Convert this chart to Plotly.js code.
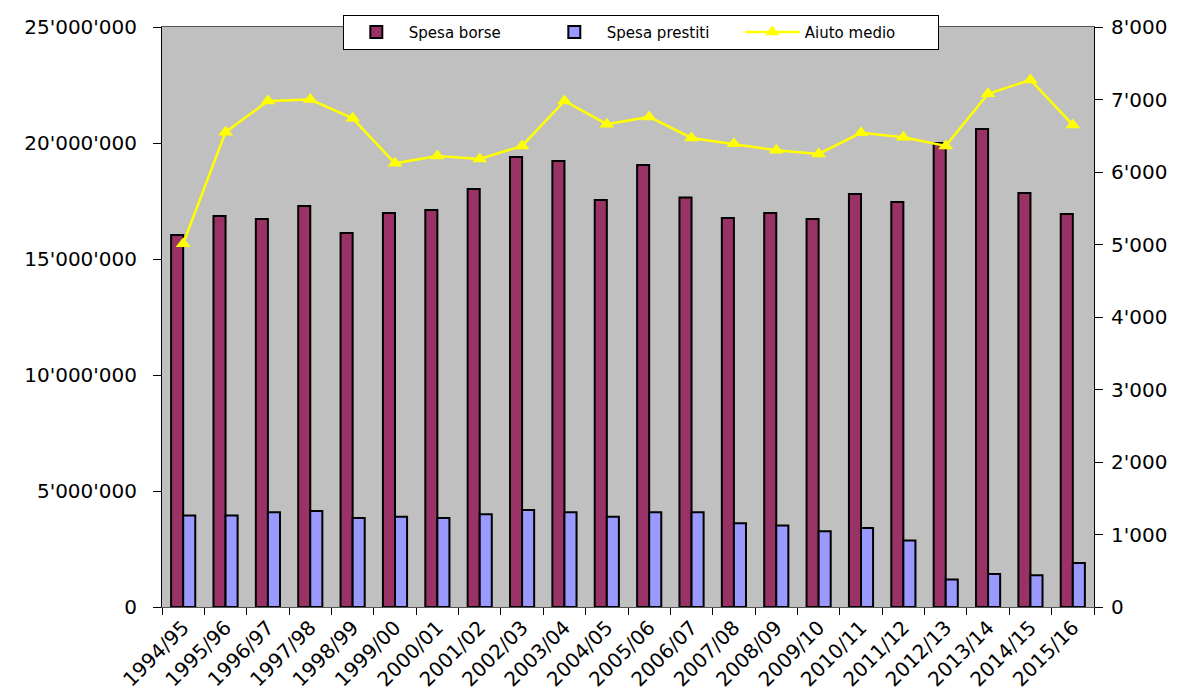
<!DOCTYPE html>
<html>
<head>
<meta charset="utf-8">
<script src="https://cdn.plot.ly/plotly-3.0.1.min.js"></script>
<style>
html,body{margin:0;padding:0;background:#fff;}
#chart{width:1184px;height:696px;}
</style>
</head>
<body>
<div id="chart"></div>
<script>
var categories = ["1994/95","1995/96","1996/97","1997/98","1998/99","1999/00","2000/01","2001/02","2002/03","2003/04","2004/05","2005/06","2006/07","2007/08","2008/09","2009/10","2010/11","2011/12","2012/13","2013/14","2014/15","2015/16"];
var spesaBorse = [16030000,16850000,16720000,17280000,16120000,16980000,17110000,18020000,19400000,19220000,17540000,19050000,17650000,16770000,16980000,16720000,17800000,17460000,20000000,20600000,17840000,16940000];
var spesaPrestiti = [3940000,3940000,4080000,4140000,3840000,3890000,3840000,4000000,4180000,4080000,3890000,4080000,4080000,3610000,3510000,3260000,3410000,2870000,1190000,1420000,1370000,1900000];
var aiutoMedio = [5010,6550,6980,7000,6740,6120,6220,6180,6360,6980,6660,6760,6470,6390,6300,6250,6540,6480,6360,7080,7270,6650];

var fontFam = "DejaVu Sans, Liberation Sans, Arial, sans-serif";

var traces = [
  {type:"bar", name:"Spesa borse", x:categories, y:spesaBorse,
   marker:{color:"#993366", line:{color:"#000000", width:2}}},
  {type:"bar", name:"Spesa prestiti", x:categories, y:spesaPrestiti,
   marker:{color:"#9999FF", line:{color:"#000000", width:2}}},
  {type:"scatter", mode:"lines+markers", name:"Aiuto medio", x:categories, y:aiutoMedio, yaxis:"y2",
   line:{color:"#FFFF00", width:2.5},
   marker:{symbol:"triangle-up", size:13, color:"#FFFF00"}}
];

var layout = {
  width:1184, height:696,
  margin:{l:162, r:90, t:27, b:89, pad:0},
  paper_bgcolor:"#FFFFFF",
  plot_bgcolor:"#C0C0C0",
  separators:".'",
  font:{family:fontFam, color:"#000000", size:18},
  barmode:"group",
  bargap:0.43,
  bargroupgap:0,
  showlegend:true,
  legend:{orientation:"h", x:0.194, xanchor:"left", y:1.021, yanchor:"top",
    bgcolor:"#FFFFFF", bordercolor:"#000000", borderwidth:1,
    font:{family:fontFam, size:15, color:"#000000"},
    itemwidth:55, entrywidth:128, entrywidthmode:"pixels", traceorder:"normal"},
  xaxis:{type:"category", range:[-0.5,21.5], tickangle:-45, tickson:"boundaries",
    ticks:"outside", ticklen:7, tickcolor:"#000000",
    showline:true, linecolor:"#555555", linewidth:1, mirror:true,
    showgrid:false, zeroline:false,
    tickfont:{family:fontFam, size:20, color:"#000000"}},
  yaxis:{range:[0,25000000], dtick:5000000, tickformat:",d",
    ticks:"outside", ticklen:8, tickcolor:"#000000", ticklabelstandoff:12,
    showline:true, linecolor:"#000000", linewidth:1,
    showgrid:false, zeroline:false,
    tickfont:{family:fontFam, size:20, color:"#000000"}},
  yaxis2:{range:[0,8000], dtick:1000, tickformat:",d", overlaying:"y", side:"right",
    ticks:"outside", ticklen:8, tickcolor:"#000000", ticklabelstandoff:4,
    showline:true, linecolor:"#000000", linewidth:1,
    showgrid:false, zeroline:false,
    tickfont:{family:fontFam, size:20, color:"#000000"}}
};

Plotly.newPlot("chart", traces, layout, {staticPlot:true, displayModeBar:false});
</script>
</body>
</html>
